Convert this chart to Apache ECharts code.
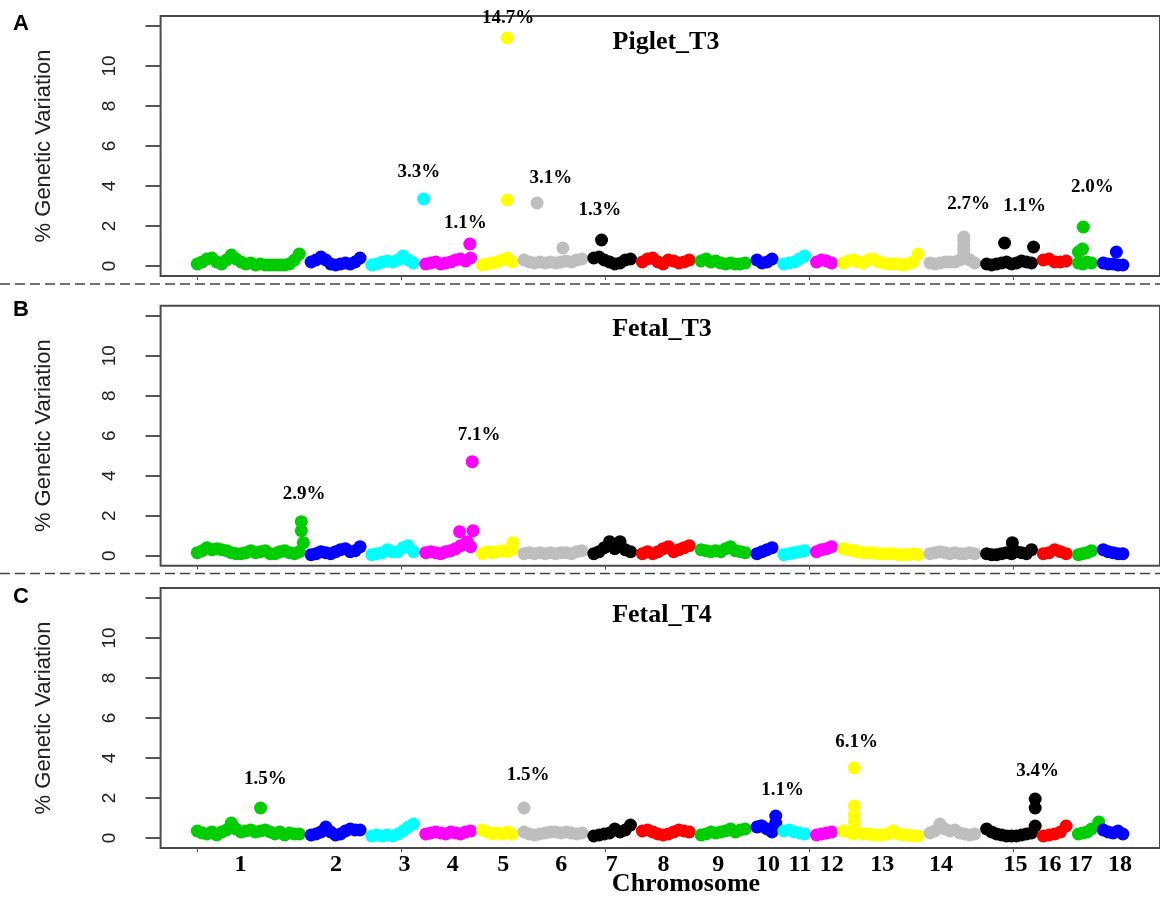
<!DOCTYPE html>
<html><head><meta charset="utf-8">
<script src="https://cdn.jsdelivr.net/npm/echarts@6/dist/echarts.min.js"></script>
<style>html,body{margin:0;padding:0;background:#fff}#c{width:1160px;height:899px}</style>
</head><body><div id="c"></div>
<script>
// ---------- DATA ----------
const chromosomes = ['1','2','3','4','5','6','7','8','9','10','11','12','13','14','15','16','17','18'];
const chrColors = ['#00CD00','#0000FF','#00FFFF','#FF00FF','#FFFF00','#BEBEBE','#000000','#FF0000','#00CD00','#0000FF','#00FFFF','#FF00FF','#FFFF00','#BEBEBE','#000000','#FF0000','#00CD00','#0000FF'];
// first / last marker position of each chromosome on the cumulative genome axis (Mb-like units)
const chrStart = [0,279,428,560,699,801,972,1091,1235,1372,1438,1518,1584,1796,1935,2074,2160,2221];
const chrEnd   = [250,399,530,670,772,943,1062,1206,1343,1409,1489,1555,1767,1906,2045,2130,2192,2269];
const chrLabelPos = [106,340,508,626,750,892,1016,1143,1277,1399,1477,1555,1679,1823,2006,2089,2165,2262];
const positionTicks = [0,500,1000,1500,2000];
const yTicks = [0,2,4,6,8,10,12];
const yTickLabels = [0,2,4,6,8,10];
const panelNames = ['Piglet_T3','Fetal_T3','Fetal_T4'];
const panelLetters = ['A','B','C'];

// Panel A: Piglet_T3 (values per chromosome, evenly ordered along each chromosome)
const pigletT3 = [
 [0.1,0.2,0.35,0.4,0.2,0.1,0.3,0.55,0.35,0.2,0.1,0.15,0.05,0.1,0.05,0.05,0.05,0.05,0.05,0.1,0.3,0.6],
 [0.2,0.3,0.45,0.3,0.1,0.05,0.1,0.15,0.1,0.2,0.4],
 [0.05,0.1,0.2,0.25,0.2,0.3,0.5,0.3,0.15],
 [0.1,0.15,0.2,0.1,0.15,0.2,0.3,0.35,0.25,0.4],
 [0.05,0.1,0.15,0.2,0.3,0.4,0.2],
 [0.3,0.2,0.15,0.2,0.15,0.2,0.15,0.2,0.25,0.2,0.3,0.35],
 [0.4,0.45,0.3,0.2,0.1,0.15,0.3,0.35],
 [0.2,0.35,0.4,0.2,0.1,0.3,0.25,0.15,0.2,0.3],
 [0.25,0.35,0.2,0.25,0.15,0.1,0.15,0.1,0.1,0.15],
 [0.3,0.15,0.2,0.35],
 [0.1,0.15,0.2,0.35,0.5],
 [0.2,0.3,0.25,0.15],
 [0.15,0.25,0.3,0.2,0.15,0.3,0.35,0.2,0.15,0.1,0.1,0.1,0.05,0.1,0.2,0.6],
 [0.15,0.1,0.15,0.2,0.2,0.2,0.3,0.4,0.3,0.15],
 [0.1,0.05,0.1,0.15,0.2,0.1,0.15,0.25,0.2,0.15],
 [0.3,0.35,0.2,0.2,0.25],
 [0.15,0.1,0.2,0.15],
 [0.15,0.1,0.1,0.05,0.05]
];
// [chromosome, position, value]
const pigletT3Peaks = [[3,555,3.35],[4,668,1.1],[5,760,11.4],[5,760,3.3],[6,833,3.15],[6,896,0.9],[7,991,1.3],
 [14,1879,0.6],[14,1879,0.8],[14,1879,1.0],[14,1879,1.25],[14,1879,1.45],[15,1979,1.15],[15,2050,0.95],
 [17,2160,0.7],[17,2170,0.85],[17,2172,1.95],[18,2253,0.7]];
// [position, value, text]
const pigletT3Notes = [[762,12.4,'14.7%'],[543,4.7,'3.3%'],[657,2.15,'1.1%'],[867,4.4,'3.1%'],[987,2.8,'1.3%'],[1891,3.1,'2.7%'],[2028,3.0,'1.1%'],[2194,3.95,'2.0%']];

// Panel B: Fetal_T3
const fetalT3 = [
 [0.15,0.25,0.4,0.3,0.35,0.3,0.25,0.15,0.1,0.1,0.15,0.25,0.15,0.2,0.25,0.1,0.1,0.2,0.25,0.15,0.1,0.2],
 [0.05,0.1,0.2,0.15,0.1,0.2,0.3,0.35,0.2,0.25,0.45],
 [0.05,0.1,0.15,0.3,0.2,0.2,0.4,0.5,0.2],
 [0.15,0.2,0.15,0.1,0.2,0.25,0.35,0.5,0.6,0.45],
 [0.1,0.2,0.15,0.2,0.25,0.2,0.3],
 [0.1,0.15,0.1,0.15,0.1,0.15,0.1,0.15,0.15,0.1,0.2,0.25],
 [0.1,0.2,0.4,0.7,0.35,0.7,0.3,0.2],
 [0.1,0.2,0.1,0.2,0.35,0.45,0.2,0.3,0.4,0.5],
 [0.3,0.25,0.2,0.25,0.2,0.35,0.45,0.25,0.2,0.15],
 [0.1,0.2,0.3,0.4],
 [0.05,0.1,0.15,0.2,0.25],
 [0.2,0.3,0.35,0.45],
 [0.35,0.3,0.25,0.2,0.15,0.15,0.15,0.1,0.1,0.1,0.1,0.05,0.05,0.05,0.1,0.05],
 [0.1,0.15,0.2,0.15,0.1,0.15,0.1,0.1,0.15,0.1],
 [0.1,0.05,0.05,0.1,0.15,0.1,0.2,0.15,0.1,0.3],
 [0.1,0.15,0.3,0.2,0.1],
 [0.05,0.1,0.15,0.25],
 [0.3,0.2,0.15,0.1,0.1]
];
const fetalT3Peaks = [[1,255,1.7],[1,255,1.25],[1,260,0.65],[4,674,4.7],[4,643,1.2],[4,676,1.25],[4,662,0.7],[5,774,0.65],[15,1998,0.65]];
const fetalT3Notes = [[262,3.1,'2.9%'],[691,6.05,'7.1%']];

// Panel C: Fetal_T4
const fetalT4 = [
 [0.35,0.25,0.2,0.3,0.15,0.3,0.4,0.75,0.45,0.3,0.35,0.4,0.3,0.35,0.4,0.3,0.2,0.3,0.15,0.25,0.2,0.2],
 [0.15,0.2,0.3,0.55,0.3,0.15,0.2,0.35,0.45,0.4,0.4],
 [0.1,0.15,0.1,0.15,0.1,0.2,0.35,0.55,0.7],
 [0.2,0.25,0.3,0.25,0.2,0.3,0.25,0.2,0.3,0.35],
 [0.4,0.3,0.2,0.25,0.2,0.3,0.2],
 [0.3,0.2,0.15,0.2,0.25,0.3,0.3,0.25,0.3,0.25,0.2,0.25],
 [0.1,0.15,0.2,0.25,0.45,0.3,0.4,0.65],
 [0.35,0.4,0.3,0.2,0.15,0.2,0.3,0.4,0.35,0.3],
 [0.15,0.2,0.3,0.25,0.3,0.35,0.45,0.3,0.4,0.45],
 [0.55,0.6,0.45,0.3],
 [0.35,0.4,0.3,0.25,0.2],
 [0.15,0.2,0.25,0.3],
 [0.35,0.3,0.2,0.25,0.2,0.2,0.15,0.15,0.15,0.2,0.35,0.2,0.15,0.15,0.1,0.1],
 [0.25,0.35,0.7,0.45,0.35,0.4,0.25,0.2,0.15,0.2],
 [0.45,0.3,0.2,0.15,0.1,0.1,0.1,0.15,0.2,0.25],
 [0.1,0.15,0.2,0.3,0.6],
 [0.2,0.25,0.3,0.45],
 [0.4,0.3,0.25,0.35,0.2]
];
const fetalT4Peaks = [[1,155,1.5],[6,801,1.5],[10,1381,0.6],[10,1418,0.75],[10,1418,1.1],[13,1611,0.8],[13,1611,1.15],[13,1611,1.6],[13,1611,3.5],[15,2054,0.6],[15,2054,1.5],[15,2054,1.95],[17,2210,0.8]];
const fetalT4Notes = [[167,2.95,'1.5%'],[811,3.15,'1.5%'],[1435,2.4,'1.1%'],[1616,4.8,'6.1%'],[2060,3.35,'3.4%']];

// ---------- LAYOUT ----------
const panels = [
  {values: pigletT3, peaks: pigletT3Peaks, notes: pigletT3Notes, top: 16},
  {values: fetalT3, peaks: fetalT3Peaks, notes: fetalT3Notes, top: 305.7},
  {values: fetalT4, peaks: fetalT4Peaks, notes: fetalT4Notes, top: 588}
];
const GL = 160.6, GW = 1004.4, GH = 260;
const serif = '"Liberation Serif","Times New Roman",serif';
const sans = '"Liberation Sans",Arial,sans-serif';

const grid = [], xAxis = [], yAxis = [], series = [];
panels.forEach((p, g) => {
  grid.push({left: GL, top: p.top, width: GW, height: GH, show: true, borderColor: '#4a4a4a', borderWidth: 2, backgroundColor: 'transparent'});
  const isLast = g === panels.length - 1;
  xAxis.push({
    type: 'value', gridIndex: g, min: -90, max: 2360,
    axisLine: {show: false, onZero: false}, splitLine: {show: false},
    axisTick: {show: true, customValues: positionTicks, length: 4, lineStyle: {color: '#555', width: 1}},
    axisLabel: isLast ? {
      show: true, customValues: chrLabelPos, margin: 5,
      formatter: v => chromosomes[chrLabelPos.indexOf(v)] || '',
      fontFamily: serif, fontWeight: 'bold', fontSize: 24, color: '#000'
    } : {show: false}
  });
  yAxis.push({
    type: 'value', gridIndex: g, min: -0.5, max: 12.5,
    axisLine: {show: false, onZero: false}, splitLine: {show: false},
    axisTick: {show: true, customValues: yTicks, length: 15, lineStyle: {color: '#555', width: 2}},
    axisLabel: {show: true, customValues: yTickLabels, rotate: 90, margin: 41, fontFamily: sans, fontSize: 19, color: '#222'},
    name: '% Genetic Variation', nameLocation: 'middle', nameGap: 106,
    nameTextStyle: {fontFamily: sans, fontSize: 22, color: '#222'}
  });
  chromosomes.forEach((c, k) => {
    const vals = p.values[k];
    const n = vals.length;
    const data = vals.map((v, i) => [chrStart[k] + (chrEnd[k] - chrStart[k]) * i / (n - 1), v]);
    p.peaks.filter(q => q[0] === k + 1).forEach(q => data.push([q[1], q[2]]));
    series.push({
      type: 'scatter', xAxisIndex: g, yAxisIndex: g, data: data, symbol: 'circle', symbolSize: 13,
      itemStyle: {color: chrColors[k], opacity: 1}, silent: true, clip: false, z: 2
    });
  });
  series.push({
    type: 'scatter', xAxisIndex: g, yAxisIndex: g, symbolSize: 1, z: 5, silent: true, clip: false,
    itemStyle: {color: 'rgba(255,255,255,0)'},
    data: p.notes.map(nt => ({value: [nt[0], nt[1]], label: {formatter: nt[2]}})),
    label: {show: true, position: 'inside', fontFamily: serif, fontWeight: 'bold', fontSize: 19, color: '#000', textBorderWidth: 0, opacity: 1}
  });
});

const graphic = [
  {type: 'line', shape: {x1: 0, y1: 284, x2: 1160, y2: 284}, style: {stroke: '#444', lineWidth: 1.5, lineDash: [10, 5]}},
  {type: 'line', shape: {x1: 0, y1: 573.5, x2: 1160, y2: 573.5}, style: {stroke: '#444', lineWidth: 1.5, lineDash: [10, 5]}},
  {type: 'text', x: 21, y: 24, style: {text: panelLetters[0], font: 'bold 22px ' + sans, fill: '#000', align: 'center', verticalAlign: 'middle'}},
  {type: 'text', x: 21, y: 310, style: {text: panelLetters[1], font: 'bold 22px ' + sans, fill: '#000', align: 'center', verticalAlign: 'middle'}},
  {type: 'text', x: 21, y: 597, style: {text: panelLetters[2], font: 'bold 22px ' + sans, fill: '#000', align: 'center', verticalAlign: 'middle'}},
  {type: 'text', x: 666, y: 42, style: {text: panelNames[0], font: 'bold 26px ' + serif, fill: '#000', align: 'center', verticalAlign: 'middle'}},
  {type: 'text', x: 662, y: 329, style: {text: panelNames[1], font: 'bold 26px ' + serif, fill: '#000', align: 'center', verticalAlign: 'middle'}},
  {type: 'text', x: 662, y: 615, style: {text: panelNames[2], font: 'bold 26px ' + serif, fill: '#000', align: 'center', verticalAlign: 'middle'}},
  {type: 'text', x: 686, y: 884, style: {text: 'Chromosome', font: 'bold 26px ' + serif, fill: '#000', align: 'center', verticalAlign: 'middle'}}
];

const chart = echarts.init(document.getElementById('c'), null, {renderer: 'canvas'});
chart.setOption({animation: false, backgroundColor: '#fff', grid, xAxis, yAxis, series, graphic});
</script>
</body></html>
